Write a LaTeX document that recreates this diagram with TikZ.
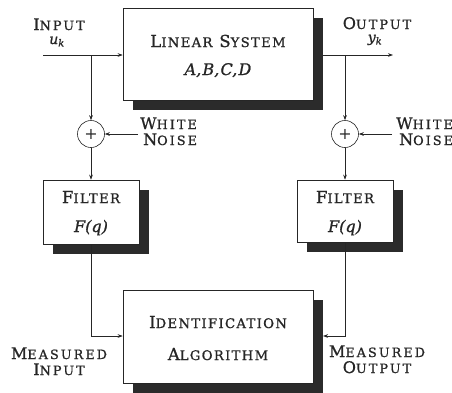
\documentclass[tikz,border=0pt]{standalone}
\usepackage{fontspec}
\setmainfont{DejaVu Serif}
\newfontfamily\scf[LetterSpace=16,FakeBold=1]{DejaVu Serif}
\newfontfamily\bxf[LetterSpace=10,FakeBold=1]{DejaVu Serif}
\newfontfamily\itf[FakeBold=1]{DejaVu Serif}
\usetikzlibrary{arrows.meta,shadows}
\newcommand\SC[2]{#1\scalebox{0.8}{#2}}
\definecolor{ink}{HTML}{262626}
\definecolor{shade}{HTML}{2B2B2B}
\tikzset{
  wire/.style={draw=ink, line width=0.6pt},
  arr/.style={wire, -{Stealth[length=5pt,width=3.6pt]}},
  blk/.style={draw=ink, line width=0.6pt, fill=white, inner sep=0pt,
    drop shadow={shadow xshift=10pt, shadow yshift=-10pt, fill=shade, opacity=1}},
  boxtext/.style={font=\fontsize{16.5}{16.5}\bxf, text=ink, inner sep=0pt, anchor=base,
    text height=12pt, text depth=0pt},
  boxit/.style={font=\fontsize{16}{16}\itf\itshape, text=ink, inner sep=0pt, anchor=base,
    text height=12pt, text depth=3pt},
  lbl/.style={font=\fontsize{16}{16}\scf, text=ink, inner sep=0pt, anchor=base,
    text height=11pt, text depth=0pt},
  lblit/.style={font=\fontsize{14}{14}\itf\itshape, text=ink, inner sep=0pt, anchor=base,
    text height=7pt, text depth=2pt},
  sumnode/.style={circle, draw=ink, line width=0.6pt, minimum size=27pt, inner sep=0pt,
    font=\fontsize{16}{16}\selectfont, text=ink},
}
\begin{document}
\begin{tikzpicture}[x=1pt,y=-1pt]
\useasboundingbox (0,0) rectangle (452,392);
% blocks
\node[blk, minimum width=190pt, minimum height=92pt] (sys) at (218,54) {};
\node[boxtext] (syst1) at (218,47) {\SC{L}{INEAR} \SC{S}{YSTEM}};
\node[boxit] (syst2) at (218,75) {A,\kern1.2pt B,\kern1.2pt C,\kern1.2pt D};
\node[blk, minimum width=96pt, minimum height=64pt] (fl) at (91,212) {};
\node[boxtext] (flt1) at (91,203) {\SC{F}{ILTER}};
\node[boxit] (flt2) at (91,232) {F(q)};
\node[blk, minimum width=96pt, minimum height=62pt] (fr) at (345,211) {};
\node[boxtext] (frt1) at (345,203) {\SC{F}{ILTER}};
\node[boxit] (frt2) at (345,232) {F(q)};
\node[blk, minimum width=190pt, minimum height=93pt] (id) at (218,336.5) {};
\node[boxtext] (idt1) at (218,328) {\SC{I}{DENTIFICATION}};
\node[boxtext] (idt2) at (218,360) {\SC{A}{LGORITHM}};
% summing junctions
\node[sumnode] (sl) at (91,134) {+};
\node[sumnode] (sr) at (345,134) {+};
% coordinates
\coordinate (uin) at (43,55);
\coordinate (ubr) at (91,55);
\coordinate (yst) at (323,55);
\coordinate (ybr) at (345,55);
\coordinate (yout) at (393,55);
\coordinate (nl) at (138,134);
\coordinate (nr) at (392,134);
\coordinate (cl) at (91,336);
\coordinate (cr) at (345,336);
\coordinate (idr) at (323,336);
% connectors
\draw[arr] (uin) -- (uin -| sys.west);
\draw[arr] (ubr) -- (sl.north);
\draw[arr] (sl.south) -- (fl.north);
\draw[arr] (nl) -- (sl.east);
\draw[arr] (yst) -- (yout);
\draw[arr] (ybr) -- (sr.north);
\draw[arr] (sr.south) -- (fr.north);
\draw[arr] (nr) -- (sr.east);
\draw[arr] (fl.south) -- (cl) -- (cl -| id.west);
\draw[arr] (fr.south) -- (cr) -- (idr);
% labels
\node[lbl] (lin) at (59,30) {\SC{I}{NPUT}};
\node[lblit] (luk) at (57,44) {u\textsubscript{k}};
\node[lbl] (lout) at (377,29) {\SC{O}{UTPUT}};
\node[lblit] (lyk) at (375,42) {y\textsubscript{k}};
\node[lbl, anchor=base west] (lwa1) at (140,129) {\SC{W}{HITE}};
\node[lbl, anchor=base west] (lwa2) at (143,145) {\SC{N}{OISE}};
\node[lbl, anchor=base west] (lwb1) at (396,129) {\SC{W}{HITE}};
\node[lbl, anchor=base west] (lwb2) at (399,145) {\SC{N}{OISE}};
\node[lbl] (lmi1) at (59,359) {\SC{M}{EASURED}};
\node[lbl] (lmi2) at (59,375) {\SC{I}{NPUT}};
\node[lbl] (lmo1) at (377,357) {\SC{M}{EASURED}};
\node[lbl] (lmo2) at (377,373) {\SC{O}{UTPUT}};
\end{tikzpicture}
\end{document}
